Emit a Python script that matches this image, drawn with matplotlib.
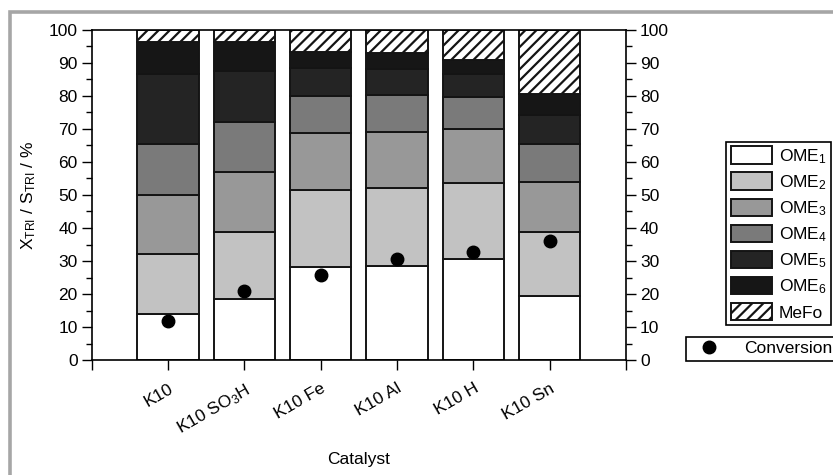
import numpy as np
import matplotlib
matplotlib.use("Agg")
import matplotlib.pyplot as plt
from matplotlib.patches import Patch, Rectangle
from matplotlib.lines import Line2D

plt.rcParams['font.family'] = ['Liberation Sans', 'DejaVu Sans']
plt.rcParams['mathtext.fontset'] = 'custom'
plt.rcParams['mathtext.rm'] = 'Liberation Sans'
plt.rcParams['mathtext.it'] = 'Liberation Sans'
plt.rcParams['hatch.linewidth'] = 1.6

# ── data (segment heights, %) ────────────────────────────────────────────────
catalysts = ["K10", "K10 SO$_3$H", "K10 Fe", "K10 Al", "K10 H", "K10 Sn"]
ome1 = [13.9, 18.5, 28.1, 28.5, 30.7, 19.5]
ome2 = [18.2, 20.2, 23.4, 23.5, 23.0, 19.2]
ome3 = [18.0, 18.4, 17.2, 17.2, 16.2, 15.3]
ome4 = [15.4, 14.9, 11.4, 11.1, 9.9, 11.4]
ome5 = [21.2, 15.7, 8.3, 7.8, 6.9, 8.8]
ome6 = [9.6, 8.6, 5.0, 5.0, 4.2, 6.4]
mefo = [3.7, 3.7, 6.6, 6.9, 9.1, 19.4]
conversion = [11.8, 20.9, 25.8, 30.5, 32.7, 36.1]

series = [ome1, ome2, ome3, ome4, ome5, ome6, mefo]
labels = ["OME$_1$", "OME$_2$", "OME$_3$", "OME$_4$", "OME$_5$", "OME$_6$", "MeFo"]
fills = ["#ffffff", "#c2c2c2", "#989898", "#7a7a7a", "#242424", "#161616", "#ffffff"]
hatches = [None] * 6 + ["///"]

FS = 12.5

fig = plt.figure(figsize=(8.33, 4.75), dpi=100)
ax = fig.add_axes([0.110, 0.242, 0.6415, 0.695])

x = np.arange(1, len(catalysts) + 1)
bottom = np.zeros(len(catalysts))
handles = []
for vals, lab, fc, h in zip(series, labels, fills, hatches):
    ax.bar(x, vals, 0.8, bottom=bottom, color=fc, edgecolor="#141414",
           linewidth=1.4, hatch=h, zorder=2)
    bottom += np.array(vals)
    handles.append(Patch(facecolor=fc, edgecolor="#141414", linewidth=1.4, hatch=h, label=lab))

ax.plot(x, conversion, 'o', color='black', ms=9, zorder=3)

ax.set_xlim(0, 7)
ax.set_ylim(0, 100)
ax.set_xticks(np.arange(0, 8))
ax.set_xticklabels([""] + catalysts + [""], rotation=30, ha='right',
                   rotation_mode='anchor', fontsize=FS)
ax.set_yticks(np.arange(0, 101, 10))
ax.set_yticks(np.arange(5, 100, 10), minor=True)
ax.tick_params(axis='y', which='both', right=True, labelright=True, labelsize=FS,
               direction='out', width=1)
ax.tick_params(axis='y', which='major', length=7, pad=3)
ax.tick_params(axis='y', which='minor', length=4)
ax.tick_params(axis='x', which='major', length=7, width=1, pad=8)
for s in ax.spines.values():
    s.set_linewidth(1.2)

ax.set_ylabel("X$_{TRI}$ / S$_{TRI}$ / %", fontsize=FS, labelpad=8)
ax.set_xlabel("Catalyst", fontsize=FS, labelpad=10)

leg1 = fig.legend(handles=handles, loc='upper right', bbox_to_anchor=(831 / 833, 1 - 142 / 475),
                  fontsize=FS, handlelength=2.4, handleheight=1.15, handletextpad=0.35,
                  labelspacing=0.4, borderpad=0.25, borderaxespad=0, fancybox=False,
                  framealpha=1, edgecolor='black')
leg1.get_frame().set_linewidth(1.2)

conv_handle = Line2D([], [], marker='o', color='black', ls='none', ms=9, label="Conversion")
leg2 = fig.legend(handles=[conv_handle], loc='upper left', bbox_to_anchor=(686 / 833, 1 - 337 / 475),
                  fontsize=FS, handlelength=2.2, handletextpad=0.9, borderpad=0.25,
                  borderaxespad=0, fancybox=False, framealpha=1, edgecolor='black')
leg2.get_frame().set_linewidth(1.2)

# grey frame around the figure (cut at right/bottom like the reference)
fig.add_artist(Rectangle((10 / 833, -0.1), 1.2, 0.1 + 1 - 12 / 475, transform=fig.transFigure,
                         fill=False, edgecolor="#a6a6a6", linewidth=2.6))

fig.savefig("out.png", dpi=100)
